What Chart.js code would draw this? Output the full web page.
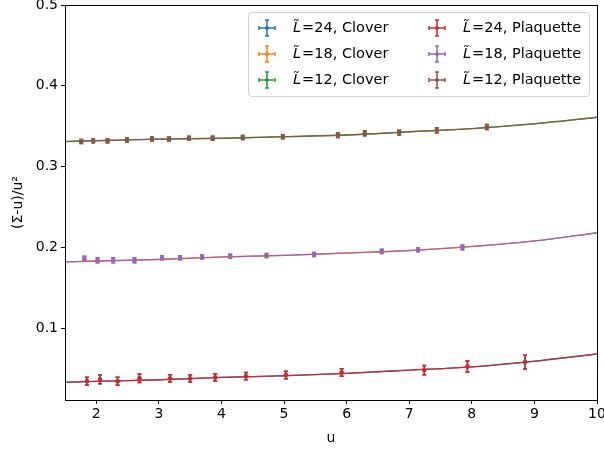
<!DOCTYPE html>
<html lang="en">
<head>
<meta charset="UTF-8">
<title>Sigma fit</title>
<script src="https://cdn.jsdelivr.net/npm/chart.js"></script>
<style>
  body { margin: 0; background: #fff; }
  #wrap { width: 604px; height: 450px; }
</style>
</head>
<body>
<div id="wrap"><canvas id="chart" width="604" height="450"></canvas></div>
<script>
// data
const uL12 = [1.76, 1.95, 2.18, 2.49, 2.89, 3.16, 3.48, 3.86, 4.34, 4.98, 5.86, 6.29, 6.84, 7.44, 8.24];
const yL12 = [0.331, 0.332, 0.332, 0.333, 0.334, 0.334, 0.335, 0.335, 0.336, 0.337, 0.339, 0.341, 0.342, 0.345, 0.349];
const eL12 = [0.0025, 0.0025, 0.0025, 0.0025, 0.0025, 0.0025, 0.0025, 0.0025, 0.0025, 0.0025, 0.003, 0.003, 0.003, 0.003, 0.003];

const uL18 = [1.81, 2.02, 2.27, 2.61, 3.05, 3.34, 3.69, 4.14, 4.72, 5.48, 6.56, 7.14, 7.85];
const yL18 = [0.186, 0.184, 0.184, 0.184, 0.187, 0.187, 0.188, 0.189, 0.190, 0.191, 0.195, 0.197, 0.200];
const eL18 = [0.003, 0.003, 0.003, 0.003, 0.0025, 0.0025, 0.0025, 0.0025, 0.0025, 0.0025, 0.0025, 0.0025, 0.003];

const uL24 = [1.85, 2.06, 2.34, 2.69, 3.18, 3.50, 3.90, 4.39, 5.03, 5.92, 7.24, 7.93, 8.85];
const yL24 = [0.0344, 0.0365, 0.0342, 0.0380, 0.0378, 0.0378, 0.0390, 0.0405, 0.0420, 0.0451, 0.0480, 0.0526, 0.0579];
const eL24 = [0.0047, 0.0054, 0.0050, 0.0052, 0.0045, 0.0045, 0.0045, 0.0045, 0.0047, 0.0047, 0.0056, 0.0068, 0.0085];

const fitU = [1.5, 2, 3, 4, 5, 6, 7, 8, 9, 10];
const fitL12 = [0.331, 0.332, 0.334, 0.335, 0.337, 0.339, 0.343, 0.347, 0.353, 0.361];
const fitL18 = [0.182, 0.183, 0.185, 0.188, 0.190, 0.193, 0.196, 0.201, 0.208, 0.218];
const fitL24 = [0.033, 0.034, 0.036, 0.039, 0.041, 0.044, 0.048, 0.052, 0.059, 0.068];

const xTicks = [2, 3, 4, 5, 6, 7, 8, 9, 10];
const yTicks = [0.1, 0.2, 0.3, 0.4, 0.5];

const legendRows = [
  ["24, Clover", "#1f77b4"], ["18, Clover", "#ff7f0e"], ["12, Clover", "#2ca02c"],
  ["24, Plaquette", "#d62728"], ["18, Plaquette", "#9467bd"], ["12, Plaquette", "#8c564b"]
];

const FONT = "DejaVu Sans";

function pts(xs, ys) { return xs.map((x, i) => ({ x: x, y: ys[i] })); }

function pointSet(xs, ys, es, color, order) {
  return {
    data: pts(xs, ys), err: es, showLine: false, order: order,
    backgroundColor: color, borderColor: color,
    pointRadius: 2.2, pointBorderWidth: 0
  };
}
function fitSet(ys, color, width, order) {
  return {
    data: pts(fitU, ys), showLine: true, order: order,
    borderColor: color, borderWidth: width, pointRadius: 0,
    cubicInterpolationMode: "monotone", fill: false
  };
}

// vertical error bars with caps, drawn right after each dataset
const errorBars = {
  id: "errorBars",
  afterDatasetDraw(chart, args) {
    const ds = chart.data.datasets[args.index];
    if (!ds.err) return;
    const ctx = chart.ctx, ys = chart.scales.y;
    ctx.save();
    ctx.strokeStyle = ds.borderColor;
    ctx.lineWidth = 1.5;
    args.meta.data.forEach((p, i) => {
      const v = ds.data[i].y, e = ds.err[i];
      const top = ys.getPixelForValue(v + e), bot = ys.getPixelForValue(v - e);
      ctx.beginPath();
      ctx.moveTo(p.x, top); ctx.lineTo(p.x, bot);
      ctx.moveTo(p.x - 2, top); ctx.lineTo(p.x + 2, top);
      ctx.moveTo(p.x - 2, bot); ctx.lineTo(p.x + 2, bot);
      ctx.stroke();
    });
    ctx.restore();
  }
};

// full frame + legend box
const frameLegend = {
  id: "frameLegend",
  afterDraw(chart) {
    const ctx = chart.ctx, a = chart.chartArea;
    ctx.save();
    ctx.strokeStyle = "#000";
    ctx.lineWidth = 1;
    ctx.strokeRect(Math.round(a.left) + 0.5, Math.round(a.top) + 0.5,
      Math.round(a.right - a.left), Math.round(a.bottom - a.top));

    const bx = 248, by = 12, bw = 341, bh = 84;
    ctx.beginPath();
    ctx.roundRect(bx + 0.5, by + 0.5, bw, bh, 3);
    ctx.fillStyle = "rgba(255,255,255,0.8)";
    ctx.fill();
    ctx.strokeStyle = "#d0d0d0";
    ctx.stroke();

    ctx.textBaseline = "middle";
    legendRows.forEach((row, i) => {
      const col = Math.floor(i / 3), r = i % 3;
      const sx = col ? 437 : 267, tx = col ? 463 : 293, cy = 28 + r * 26;
      ctx.strokeStyle = row[1];
      ctx.lineWidth = 1.5;
      ctx.beginPath();
      ctx.moveTo(sx - 8, cy); ctx.lineTo(sx + 8, cy);
      ctx.moveTo(sx, cy - 8); ctx.lineTo(sx, cy + 8);
      ctx.moveTo(sx - 8, cy - 2); ctx.lineTo(sx - 8, cy + 2);
      ctx.moveTo(sx + 8, cy - 2); ctx.lineTo(sx + 8, cy + 2);
      ctx.moveTo(sx - 2, cy - 8); ctx.lineTo(sx + 2, cy - 8);
      ctx.moveTo(sx - 2, cy + 8); ctx.lineTo(sx + 2, cy + 8);
      ctx.stroke();
      ctx.fillStyle = row[1];
      ctx.beginPath(); ctx.arc(sx, cy, 2, 0, Math.PI * 2); ctx.fill();

      ctx.fillStyle = "#000";
      ctx.font = "italic 14.5px " + FONT;
      ctx.fillText("L\u0303", tx, cy);
      const w = ctx.measureText("L").width;
      ctx.font = "14.5px " + FONT;
      ctx.fillText("=" + row[0], tx + w + 1, cy);
    });
    ctx.restore();
  }
};

new Chart(document.getElementById("chart"), {
  type: "scatter",
  data: {
    datasets: [
      fitSet(fitL24, "#1f77b4", 1.4, 20),
      fitSet(fitL18, "#ff7f0e", 1.4, 20),
      fitSet(fitL12, "#2ca02c", 1.4, 20),
      fitSet(fitL24, "#d62728", 1.2, 15),
      fitSet(fitL18, "#9467bd", 1.2, 15),
      fitSet(fitL12, "#8c564b", 1.2, 15),
      pointSet(uL24, yL24, eL24, "#1f77b4", 10),
      pointSet(uL18, yL18, eL18, "#ff7f0e", 10),
      pointSet(uL12, yL12, eL12, "#2ca02c", 10),
      pointSet(uL24, yL24, eL24, "#d62728", 5),
      pointSet(uL18, yL18, eL18, "#9467bd", 5),
      pointSet(uL12, yL12, eL12, "#8c564b", 5)
    ]
  },
  options: {
    responsive: false,
    animation: false,
    layout: { padding: { top: 5, right: 7, left: 0, bottom: 0 } },
    plugins: { legend: { display: false }, tooltip: { enabled: false } },
    scales: {
      x: {
        type: "linear", min: 1.5, max: 10,
        afterBuildTicks: s => { s.ticks = xTicks.map(v => ({ value: v })); },
        afterFit: s => { s.height = 50; s.paddingLeft = 0; s.paddingRight = 0; },
        ticks: { color: "#000", font: { family: FONT, size: 14 }, padding: 2, maxRotation: 0, autoSkip: false,
          callback: v => String(v) },
        grid: { drawOnChartArea: false, tickLength: 4, color: "#000" },
        border: { color: "#000" },
        title: { display: true, text: "u", color: "#000", font: { family: FONT, size: 14 }, padding: { top: 0, bottom: 3 } }
      },
      y: {
        type: "linear", min: 0.011, max: 0.5,
        afterBuildTicks: s => { s.ticks = yTicks.map(v => ({ value: v })); },
        afterFit: s => { s.width = 65; s.paddingTop = 0; s.paddingBottom = 0; },
        ticks: { color: "#000", font: { family: FONT, size: 14 }, padding: 3, autoSkip: false,
          callback: v => v.toFixed(1) },
        grid: { drawOnChartArea: false, tickLength: 4, color: "#000" },
        border: { color: "#000" },
        title: { display: true, text: "(\u03A3-u)/u\u00B2", color: "#000", font: { family: FONT, size: 14 }, padding: { top: 10, bottom: 0 } }
      }
    }
  },
  plugins: [errorBars, frameLegend]
});
</script>
</body>
</html>
